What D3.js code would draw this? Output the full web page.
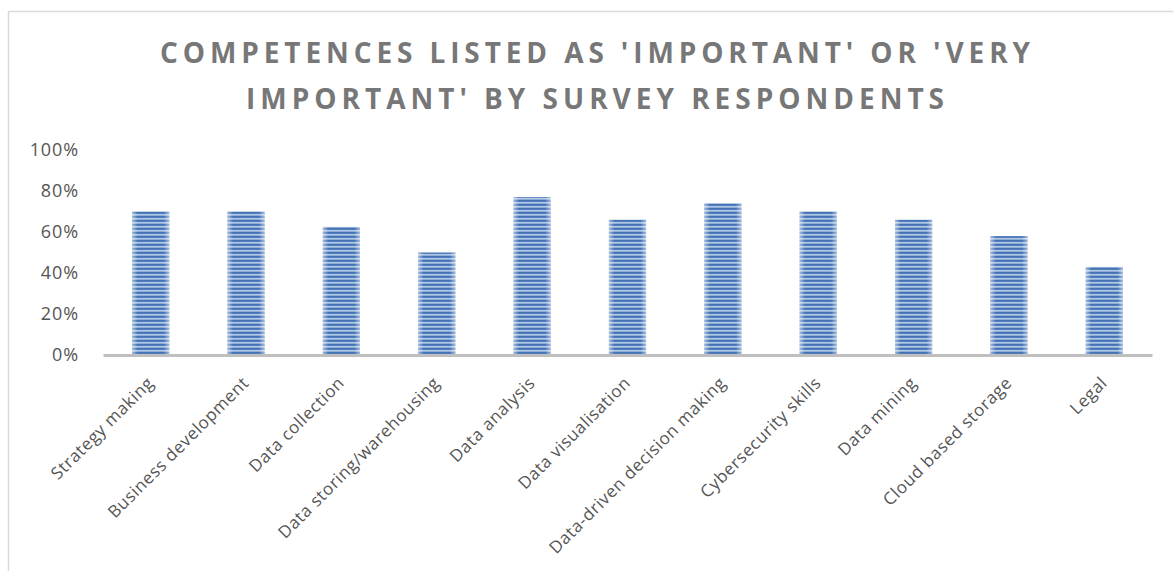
<!DOCTYPE html>
<html lang="en">
<head>
    <meta charset="UTF-8">
    <title>Competences chart</title>
    <style>
        body { margin: 0; background: #fff; }
        svg text { font-family: "Open Sans", sans-serif; }
    </style>
</head>
<body>
    <div id="graphArea"></div>
    <script src="https://d3js.org/d3.v7.min.js"></script>
    <script>
        const categories = [
            "Strategy making", "Business development", "Data collection",
            "Data storing/warehousing", "Data analysis", "Data visualisation",
            "Data-driven decision making", "Cybersecurity skills", "Data mining",
            "Cloud based storage", "Legal"
        ];
        const values = [0.70, 0.70, 0.625, 0.50, 0.77, 0.66, 0.74, 0.70, 0.66, 0.58, 0.43];
        const yTicks = [0, 0.2, 0.4, 0.6, 0.8, 1.0];
        const titleLines = [
            "COMPETENCES LISTED AS 'IMPORTANT' OR 'VERY",
            "IMPORTANT' BY SURVEY RESPONDENTS"
        ];

        const W = 1173, H = 571;

        const svg = d3.select("#graphArea")
            .append("svg")
            .attr("width", W)
            .attr("height", H);

        // striped fill for the bars
        const defs = svg.append("defs");
        const pat = defs.append("pattern")
            .attr("id", "stripes")
            .attr("patternUnits", "userSpaceOnUse")
            .attr("width", 8)
            .attr("height", 4);
        pat.append("rect").attr("width", 8).attr("height", 4).attr("fill", "#6a93ca");
        pat.append("rect").attr("y", 0).attr("width", 8).attr("height", 1.7).attr("fill", "#4473b5");
        pat.append("rect").attr("y", 2.2).attr("width", 8).attr("height", 1.2).attr("fill", "#c4d4ea");

        const shade = defs.append("linearGradient")
            .attr("id", "edgeShade")
            .attr("x1", "0").attr("x2", "1").attr("y1", "0").attr("y2", "0");
        shade.append("stop").attr("offset", "0").attr("stop-color", "#fff").attr("stop-opacity", 0.5);
        shade.append("stop").attr("offset", "0.15").attr("stop-color", "#fff").attr("stop-opacity", 0);
        shade.append("stop").attr("offset", "0.85").attr("stop-color", "#fff").attr("stop-opacity", 0);
        shade.append("stop").attr("offset", "1").attr("stop-color", "#fff").attr("stop-opacity", 0.5);

        // chart frame (only top and left visible)
        svg.append("rect")
            .attr("x", 8.5).attr("y", 11.5)
            .attr("width", W + 20).attr("height", H + 20)
            .attr("fill", "none")
            .attr("stroke", "#d9d9d9")
            .attr("stroke-width", 1.5);

        // title
        const titleW = [870, 698];
        svg.selectAll(".title")
            .data(titleLines)
            .join("text")
            .attr("class", "title")
            .attr("x", 595)
            .attr("y", (d, i) => 63 + i * 46)
            .attr("text-anchor", "middle")
            .attr("font-size", "28px")
            .attr("font-weight", "bold")
            .attr("fill", "#777777")
            .attr("textLength", (d, i) => titleW[i])
            .attr("lengthAdjust", "spacing")
            .text(d => d);

        const x = d3.scaleBand()
            .domain(categories)
            .range([103, 1152])
            .paddingInner(0.61)
            .paddingOuter(0.305);

        const y = d3.scaleLinear()
            .domain([0, 1])
            .range([355, 150]);

        // y axis labels
        const yAxis = svg.append("g")
            .attr("transform", "translate(79,0)")
            .call(d3.axisLeft(y).tickValues(yTicks).tickFormat(d3.format(".0%")).tickSize(0).tickPadding(0));
        yAxis.select(".domain").remove();
        yAxis.selectAll("text")
            .attr("font-size", "18px")
            .attr("letter-spacing", "0.9px")
            .attr("fill", "#555555")
            .attr("font-family", "Open Sans, sans-serif");

        // bars
        const bars = svg.append("g");
        bars.selectAll(".bar")
            .data(values)
            .join("rect")
            .attr("class", "bar")
            .attr("x", (d, i) => x(categories[i]))
            .attr("y", d => y(d))
            .attr("width", x.bandwidth())
            .attr("height", d => y(0) - y(d))
            .attr("fill", "url(#stripes)");
        bars.selectAll(".shade")
            .data(values)
            .join("rect")
            .attr("class", "shade")
            .attr("x", (d, i) => x(categories[i]))
            .attr("y", d => y(d))
            .attr("width", x.bandwidth())
            .attr("height", d => y(0) - y(d))
            .attr("fill", "url(#edgeShade)");

        // x axis
        const xAxis = svg.append("g")
            .attr("transform", `translate(0, ${y(0)})`)
            .call(d3.axisBottom(x).tickSize(0).tickSizeOuter(0).tickPadding(0));
        xAxis.select(".domain")
            .attr("stroke", "#bfbfbf")
            .attr("stroke-width", 3);
        xAxis.selectAll("text")
            .attr("font-size", "17px")
            .attr("letter-spacing", "0.6px")
            .attr("fill", "#555555")
            .attr("font-family", "Open Sans, sans-serif")
            .attr("text-anchor", "end")
            .attr("dy", 0)
            .attr("y", 0)
            .attr("transform", "translate(4,29) rotate(-45)");
    </script>
</body>
</html>
